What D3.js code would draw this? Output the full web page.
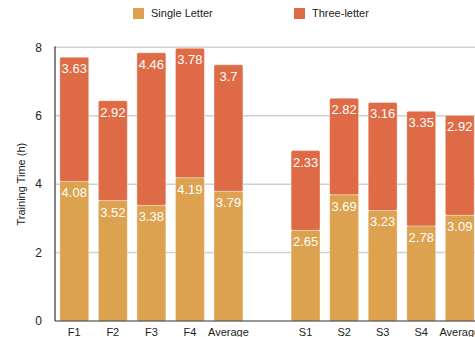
<!DOCTYPE html>
<html>
<head>
<meta charset="utf-8">
<script src="https://cdn.jsdelivr.net/npm/d3@7"></script>
<style>
  html, body { margin: 0; padding: 0; background: #fff; overflow: hidden; }
  svg { display: block; font-family: "Liberation Sans", Arial, Helvetica, sans-serif; }
</style>
</head>
<body>
<svg id="chart" width="475" height="337"></svg>
<script>
// Category slots along the x axis ("" is the spacer between the two groups)
const categories = ["F1", "F2", "F3", "F4", "Average", "", "S1", "S2", "S3", "S4", "Average "];
const singleLetter = [4.08, 3.52, 3.38, 4.19, 3.79, null, 2.65, 3.69, 3.23, 2.78, 3.09];
const threeLetter  = [3.63, 2.92, 4.46, 3.78, 3.7,  null, 2.33, 2.82, 3.16, 3.35, 2.92];
const yTicks = [0, 2, 4, 6, 8];
const seriesNames = ["Single Letter", "Three-letter"];
const seriesColors = ["#dca24f", "#de6b46"];

const svg = d3.select("#chart");
const margin = { left: 55, top: 47.3, bottom: 321 };

const x = d3.scaleBand()
  .domain(categories.map((c, i) => i))
  .range([margin.left, margin.left + 11 * 38.55])
  .paddingInner(0.25)
  .paddingOuter(0.125);

const y = d3.scaleLinear().domain([0, 8]).range([margin.bottom, margin.top]);

// Horizontal gridlines
svg.append("g")
  .selectAll("line")
  .data(yTicks.filter(t => t > 0))
  .join("line")
  .attr("x1", margin.left).attr("x2", 475)
  .attr("y1", d => y(d)).attr("y2", d => y(d))
  .attr("stroke", "#d0d0d0").attr("stroke-width", 1.5);

// Y tick labels
svg.append("g")
  .selectAll("text")
  .data(yTicks)
  .join("text")
  .attr("x", 42).attr("y", d => y(d))
  .attr("dy", "0.35em")
  .attr("text-anchor", "end")
  .attr("font-size", 12).attr("fill", "#222")
  .text(d => d);

// Y axis title
svg.append("text")
  .attr("transform", `translate(25,${(margin.top + margin.bottom) / 2}) rotate(-90)`)
  .attr("text-anchor", "middle")
  .attr("font-size", 11).attr("fill", "#222")
  .text("Training Time (h)");

// Stacked bars
const rows = categories.map((c, i) => ({ i, a: singleLetter[i], b: threeLetter[i] }))
  .filter(r => r.a != null);

const segs = [];
rows.forEach(r => {
  segs.push({ i: r.i, y0: 0, y1: r.a, v: r.a, s: 0 });
  segs.push({ i: r.i, y0: r.a, y1: r.a + r.b, v: r.b, s: 1 });
});

const gBars = svg.append("g");
gBars.selectAll("rect")
  .data(segs)
  .join("rect")
  .attr("x", d => x(d.i))
  .attr("width", x.bandwidth())
  .attr("y", d => y(d.y1))
  .attr("height", d => y(d.y0) - y(d.y1))
  .attr("rx", 1.5)
  .attr("fill", d => seriesColors[d.s])
  .attr("stroke", "rgba(255,255,255,0.35)")
  .attr("stroke-width", 1);

// Value labels at top of each segment
gBars.selectAll("text")
  .data(segs)
  .join("text")
  .attr("x", d => x(d.i) + x.bandwidth() / 2)
  .attr("y", d => y(d.y1) + 16)
  .attr("text-anchor", "middle")
  .attr("font-size", 13).attr("fill", "#fff")
  .text(d => d.v);

// Axis lines
svg.append("line")
  .attr("x1", margin.left).attr("x2", margin.left)
  .attr("y1", margin.top - 1).attr("y2", margin.bottom)
  .attr("stroke", "#333").attr("stroke-width", 1.2);
svg.append("line")
  .attr("x1", margin.left).attr("x2", 475)
  .attr("y1", margin.bottom).attr("y2", margin.bottom)
  .attr("stroke", "#333").attr("stroke-width", 1.2);

// Category labels
svg.append("g")
  .selectAll("text")
  .data(categories.map((c, i) => ({ c: c.trim(), i })).filter(d => d.c))
  .join("text")
  .attr("x", d => x(d.i) + x.bandwidth() / 2)
  .attr("y", 332)
  .attr("dy", "0.35em")
  .attr("text-anchor", "middle")
  .attr("font-size", 11).attr("fill", "#222")
  .text(d => d.c);

// Legend
const legendX = [133, 294];
const legend = svg.append("g")
  .selectAll("g")
  .data(seriesNames)
  .join("g")
  .attr("transform", (d, i) => `translate(${legendX[i]},8)`);
legend.append("rect")
  .attr("width", 11).attr("height", 11)
  .attr("fill", (d, i) => seriesColors[i]);
legend.append("text")
  .attr("x", 18).attr("y", 5.5).attr("dy", "0.35em")
  .attr("font-size", 11).attr("fill", "#222")
  .text(d => d);
</script>
</body>
</html>
